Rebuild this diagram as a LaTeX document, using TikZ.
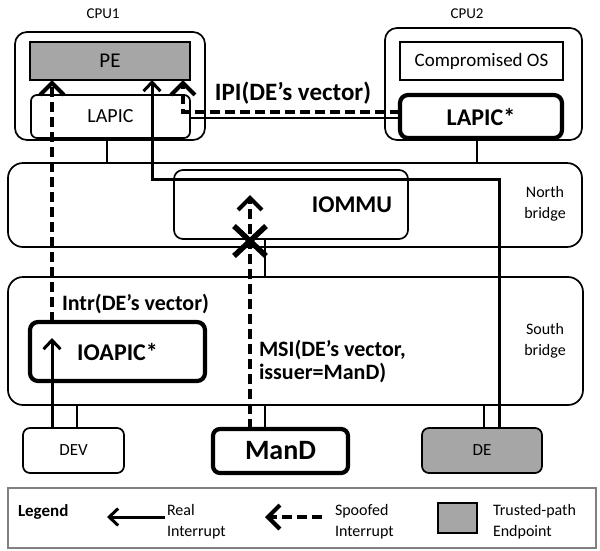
\documentclass[tikz,border=0pt]{standalone}
\usepackage{fontspec}
\setmainfont{Carlito}
\usetikzlibrary{arrows.meta}
\definecolor{pegray}{HTML}{A6A6A6}
\definecolor{leggray}{HTML}{808080}
\newcommand\myfs[2]{\fontsize{#1}{#2}\selectfont}
\begin{document}
\begin{tikzpicture}[x=1pt,y=-1pt,
  every node/.style={inner sep=0pt, outer sep=0pt},
  box/.style={draw, line width=1.7pt},
  rbox/.style={box, rounded corners=#1},
  thickbox/.style={draw, line width=4.2pt, rounded corners=8pt},
  bus/.style={line width=1.6pt},
  real/.style={line width=3pt, -{Straight Barb[length=9pt,width=17pt]}},
  spoof/.style={line width=4.2pt, dash pattern=on 10pt off 5pt, -{Straight Barb[length=12pt,width=24pt]}},
  lbl/.style={font=\myfs{16}{21}, align=center},
  leglbl/.style={font=\myfs{16}{21}, align=left, anchor=west}
]
\path[use as bounding box] (0,0) rectangle (600,550);

% CPU1
\node[rbox=12pt, minimum width=190pt, minimum height=108pt] (cpu1) at (110,86) {};
\node[font=\myfs{15}{18}] (cpu1l) at (103,14) {CPU1};
\node[box, fill=pegray, minimum width=160pt, minimum height=38pt, font=\myfs{21}{25}] (pe) at (110,61) {PE};
\node[rbox=6pt, minimum width=159pt, minimum height=43pt, font=\myfs{20}{24}] (lapic) at (110.5,116.5) {LAPIC};

% CPU2
\node[rbox=12pt, minimum width=197pt, minimum height=112pt] (cpu2) at (483.5,84) {};
\node[font=\myfs{15}{18}] (cpu2l) at (467,14) {CPU2};
\node[box, minimum width=163pt, minimum height=38pt, font=\myfs{19}{23}] (os) at (481.5,61) {Compromised OS};
\node[thickbox, minimum width=162pt, minimum height=43pt, font=\bfseries\myfs{24}{28}] (lapics) at (481,116.5) {LAPIC*};

% IPI label
\node[font=\bfseries\myfs{25}{30}] (ipi) at (293,93) {IPI(DE’s vector)};

% North bridge
\node[rbox=15pt, minimum width=574pt, minimum height=84pt] (nb) at (295,205) {};
\node[lbl] (nbl) at (545,204) {North\\bridge};
\node[rbox=9pt, minimum width=234pt, minimum height=69pt] (iommu) at (291,204.5) {};
\node[font=\bfseries\myfs{24}{28}] (iommul) at (352,205) {IOMMU};

% South bridge
\node[rbox=15pt, minimum width=575pt, minimum height=128pt] (sb) at (295.5,341) {};
\node[lbl] (sbl) at (545,341) {South\\bridge};
\node[thickbox, minimum width=175pt, minimum height=59pt, font=\bfseries\myfs{24}{28}] (ioapic) at (117.5,351.5) {IOAPIC*};
\node[font=\bfseries\myfs{22}{26}, anchor=west] (intr) at (62,304) {Intr(DE’s vector)};
\node[font=\bfseries\myfs{22}{23}, anchor=west, align=left] (msi) at (259,361.5) {MSI(DE’s vector,\\issuer=ManD)};

% Devices
\node[rbox=7pt, minimum width=101pt, minimum height=45pt, font=\myfs{17}{20}] (dev) at (73.5,450.5) {DEV};
\node[thickbox, rounded corners=7pt, minimum width=135pt, minimum height=44pt, font=\bfseries\myfs{28}{32}] (mand) at (280.5,451) {ManD};
\node[rbox=7pt, fill=pegray, minimum width=120pt, minimum height=45pt, font=\myfs{17}{20}] (de) at (482,450.5) {DE};

% helper coordinates
\coordinate (xa) at (107,0);
\coordinate (xb) at (477,0);
\coordinate (xc) at (52,0);
\coordinate (xd) at (77,0);
\coordinate (xe) at (250,0);
\coordinate (xf) at (265,0);
\coordinate (xg) at (484,0);
\coordinate (xh) at (499,0);
\coordinate (xi) at (152,0);
\coordinate (xj) at (183,0);
\coordinate (yipi) at (0,112);
\coordinate (ybus) at (0,118);
\coordinate (yde) at (0,179);
\coordinate (ioin) at (52,338);
\coordinate (mtip) at (250,195);

% bus lines
\draw[bus] (lapic.south -| xa) -- (nb.north -| xa);
\draw[bus] (lapics.south -| xb) -- (nb.north -| xb);
\draw[bus] (lapic.east |- ybus) -- (lapics.west |- ybus);
\draw[bus] (de.north -| xg) -- (sb.south -| xg);
\draw[bus] (dev.north -| xd) -- (sb.south -| xd);
\draw[bus] (mand.north -| xf) -- (sb.south -| xf);
\draw[bus] (sb.north -| xf) -- (iommu.south -| xf);

% real interrupts
\draw[real] (de.north -| xh) -- (yde -| xh) -- (yde -| xi) -- (pe.south -| xi);
\draw[real] (dev.north -| xc) -- (ioin);

% spoofed interrupts
\draw[spoof] (lapics.west |- yipi) -- (yipi -| xj) -- (pe.south -| xj);
\draw[spoof] (ioapic.north -| xc) -- (pe.south -| xc);
\draw[spoof] (mand.north -| xe) -- (mtip);

% blocked mark
\draw[line width=5.5pt, shift={(250,241)}] (-16,-15) -- (16,15) (-16,15) -- (16,-15);

% Legend
\node[draw=leggray, line width=1.5pt, minimum width=588pt, minimum height=60pt] (leg) at (302,518) {};
\node[font=\bfseries\myfs{17}{20}, anchor=west] (legt) at (18,512) {Legend};
\coordinate (r1) at (165,517);
\coordinate (r0) at (107,517);
\draw[real] (r1) -- (r0);
\node[leglbl] (realt) at (167,522) {Real\\Interrupt};
\coordinate (s1) at (322,517);
\coordinate (s0) at (265,517);
\draw[spoof] (s1) -- (s0);
\node[leglbl] (spt) at (335,522) {Spoofed\\Interrupt};
\node[draw, line width=1.8pt, fill=pegray, minimum width=39pt, minimum height=30pt] (tp) at (457.5,518) {};
\node[leglbl] (tpt) at (493,522) {Trusted-path\\Endpoint};
\end{tikzpicture}
\end{document}
